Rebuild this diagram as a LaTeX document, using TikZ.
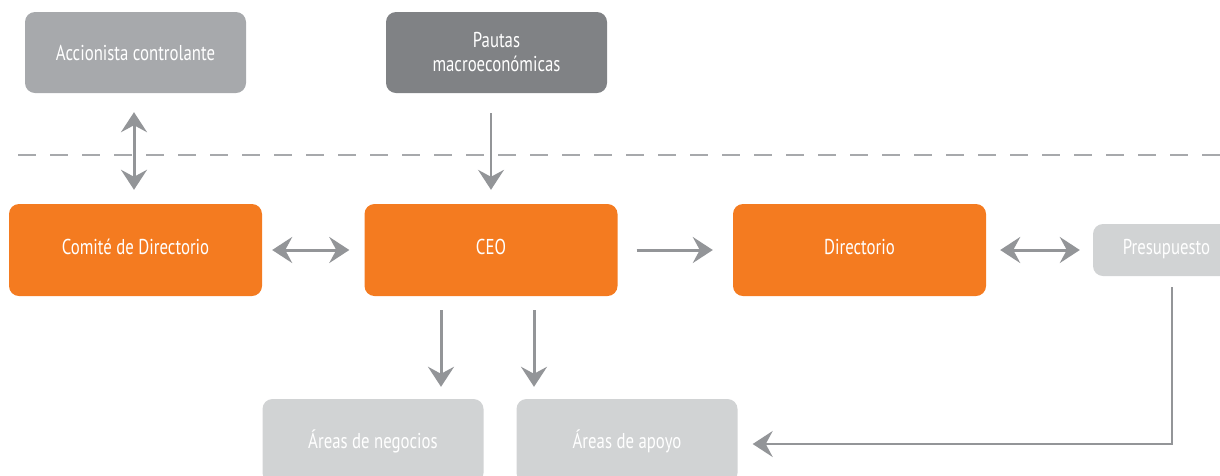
\documentclass[tikz,border=0pt]{standalone}
\usepackage{fontspec}
\setmainfont{PT Sans}[FakeStretch=0.78]
\usetikzlibrary{arrows.meta}
\definecolor{orng}{HTML}{F47B20}
\definecolor{gmid}{HTML}{A7A9AC}
\definecolor{gdark}{HTML}{808285}
\definecolor{glight}{HTML}{D1D3D4}
\definecolor{arr}{HTML}{939598}
\tikzset{
  box/.style={rounded corners=10pt, text=white, align=center, font=\fontsize{21.5}{24}\selectfont, inner sep=0pt},
  raised/.style={text height=15pt, text depth=6pt},
  obox/.style={box, raised, fill=orng, minimum width=253pt, minimum height=92pt},
  tbox/.style={box, minimum width=221pt, minimum height=81pt},
  conn/.style={draw=arr, line width=3pt, -{Stealth[length=20pt,width=26pt,inset=7pt]}},
  bconn/.style={draw=arr, line width=3pt, {Stealth[length=20pt,width=26pt,inset=7pt]}-{Stealth[length=20pt,width=26pt,inset=7pt]}}
}
\begin{document}
\begin{tikzpicture}[x=1pt,y=-1pt]
\useasboundingbox (0,0) rectangle (1220,475);
\node[tbox, fill=gmid] (acc) at (135.5,52.5) {Accionista controlante};
\node[tbox, fill=gdark] (pautas) at (496.5,52.5) {Pautas\\macroeconómicas};
\node[obox] (comite) at (135.5,250) {Comité de Directorio};
\node[obox] (ceo) at (491,250) {CEO};
\node[obox] (dir) at (859.5,250) {Directorio};
\node[box, raised, fill=glight, minimum width=147pt, minimum height=52pt, text width=135pt] (pres) at (1166.5,250) {Presupuesto};
\node[tbox, fill=glight, minimum height=84pt] (neg) at (373,441) {Áreas de negocios};
\node[tbox, fill=glight, minimum height=84pt] (apoyo) at (627,441) {Áreas de apoyo};
\coordinate (dl) at (18,155);
\coordinate (dr) at (1220,155);
\draw[gmid, line width=1.5pt, dash pattern=on 18pt off 14pt] (dl) -- (dr);
\draw[bconn, shorten <=19pt, shorten >=14pt] ([xshift=-1.5pt]acc.south) -- ([xshift=-1.5pt]acc.south |- comite.north);
\draw[conn, line width=1.5pt, shorten <=20pt, shorten >=14pt] (pautas.south -| ceo.north) -- (ceo.north);
\draw[bconn, shorten <=10pt, shorten >=15pt] (comite.east) -- (ceo.west);
\draw[conn, shorten <=19pt, shorten >=20pt] (ceo.east) -- (dir.west);
\draw[bconn, shorten <=14pt, shorten >=13pt] (dir.east) -- (pres.west);
\draw[conn, shorten <=14pt, shorten >=12pt] ([xshift=-50pt]ceo.south) -- ([xshift=-50pt]ceo.south |- neg.north);
\draw[conn, shorten <=14pt, shorten >=12pt] ([xshift=43pt]ceo.south) -- ([xshift=43pt]ceo.south |- apoyo.north);
\draw[conn, line width=2pt, shorten <=11pt, shorten >=15pt] ([xshift=5.5pt]pres.south) |- ([yshift=-3pt]apoyo.east);
\end{tikzpicture}
\end{document}
